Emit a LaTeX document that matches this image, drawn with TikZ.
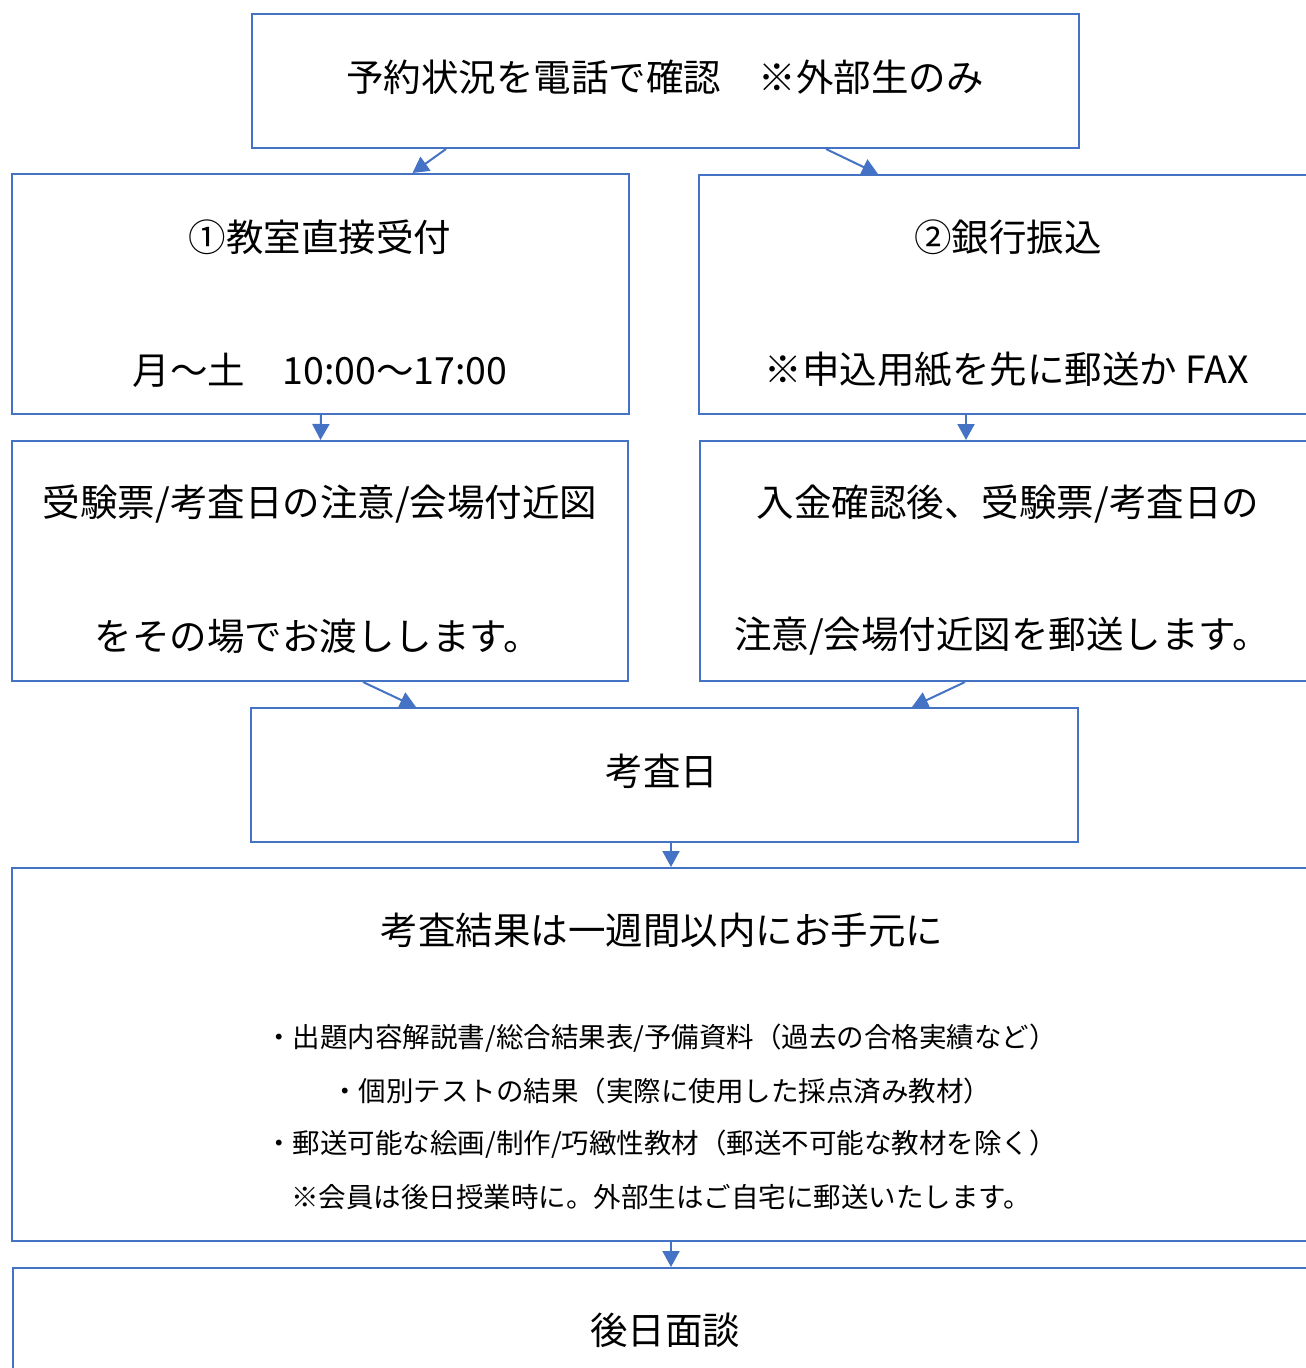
\documentclass[tikz,border=0pt]{standalone}
\usepackage{fontspec}
\setmainfont{Noto Sans CJK JP}
\usetikzlibrary{arrows.meta}
\definecolor{boxblue}{HTML}{4472C4}
\tikzset{
  box/.style={draw=boxblue, line width=2pt, rectangle, inner sep=0pt, anchor=center},
  big/.style={inner sep=0pt, anchor=center, font=\fontsize{37.5}{42}\selectfont},
  small/.style={inner sep=0pt, anchor=center, font=\fontsize{27.5}{32}\selectfont},
  arr/.style={draw=boxblue, line width=2pt, -{Triangle[length=16pt,width=17pt]}},
}
\begin{document}
\begin{tikzpicture}[x=1pt,y=-1pt]
\useasboundingbox (0,0) rectangle (1306,1368);
\clip (0,0) rectangle (1306,1368);
% boxes
\node[box, minimum width=827pt, minimum height=134pt] (b1) at (665.5,81) {};
\node[box, minimum width=617pt, minimum height=240pt] (b2a) at (320.5,294) {};
\node[box, minimum width=618pt, minimum height=239pt] (b2b) at (1008,294.5) {};
\node[box, minimum width=616pt, minimum height=240pt] (b3a) at (320,561) {};
\node[box, minimum width=617pt, minimum height=240pt] (b3b) at (1008.5,561) {};
\node[box, minimum width=827pt, minimum height=134pt] (b4) at (664.5,775) {};
\node[box, minimum width=1300pt, minimum height=373pt] (b5) at (662,1054.5) {};
\node[box, minimum width=1305pt, minimum height=134pt] (b6) at (665.5,1335) {};
% texts
\node[big] (t1) at (665,77) {予約状況を電話で確認　※外部生のみ};
\node[big] (t2a1) at (320,237) {①教室直接受付};
\node[big] (t2a2) at (320,370) {月〜土　10:00〜17:00};
\node[big] (t2b1) at (1008,237) {②銀行振込};
\node[big] (t2b2) at (1007,370) {※申込用紙を先に郵送か FAX};
\node[big] (t3a1) at (320,504) {受験票/考査日の注意/会場付近図};
\node[big] (t3a2) at (318,636) {をその場でお渡しします。};
\node[big] (t3b1) at (1008,504) {入金確認後、受験票/考査日の};
\node[big] (t3b2) at (1002,636) {注意/会場付近図を郵送します。};
\node[big] (t4) at (662,771) {考査日};
\node[big] (t5) at (662,930) {考査結果は一週間以内にお手元に};
\node[small] (l1) at (661,1038) {・出題内容解説書/総合結果表/予備資料（過去の合格実績など）};
\node[small] (l2) at (661,1091) {・個別テストの結果（実際に使用した採点済み教材）};
\node[small] (l3) at (661,1144) {・郵送可能な絵画/制作/巧緻性教材（郵送不可能な教材を除く）};
\node[small] (l4) at (661,1197) {※会員は後日授業時に。外部生はご自宅に郵送いたします。};
\node[big] (t6) at (665,1330) {後日面談};
% connectors
\draw[arr] ([xshift=-219.5pt]b1.south) -- ([xshift=92pt]b2a.north);
\draw[arr] ([xshift=160.5pt]b1.south) -- ([xshift=-130pt]b2b.north);
\draw[arr] ([xshift=0.5pt]b2a.south) -- ([xshift=0.5pt]b3a.north);
\draw[arr] ([xshift=-42pt]b2b.south) -- ([xshift=-42.5pt]b3b.north);
\draw[arr] ([xshift=43pt]b3a.south) -- ([xshift=-248.5pt]b4.north);
\draw[arr] ([xshift=-43.5pt]b3b.south) -- ([xshift=247.5pt]b4.north);
\draw[arr] ([xshift=6.5pt]b4.south) -- ([xshift=9pt]b5.north);
\draw[arr] ([xshift=9pt]b5.south) -- ([xshift=5.5pt]b6.north);
\end{tikzpicture}
\end{document}
